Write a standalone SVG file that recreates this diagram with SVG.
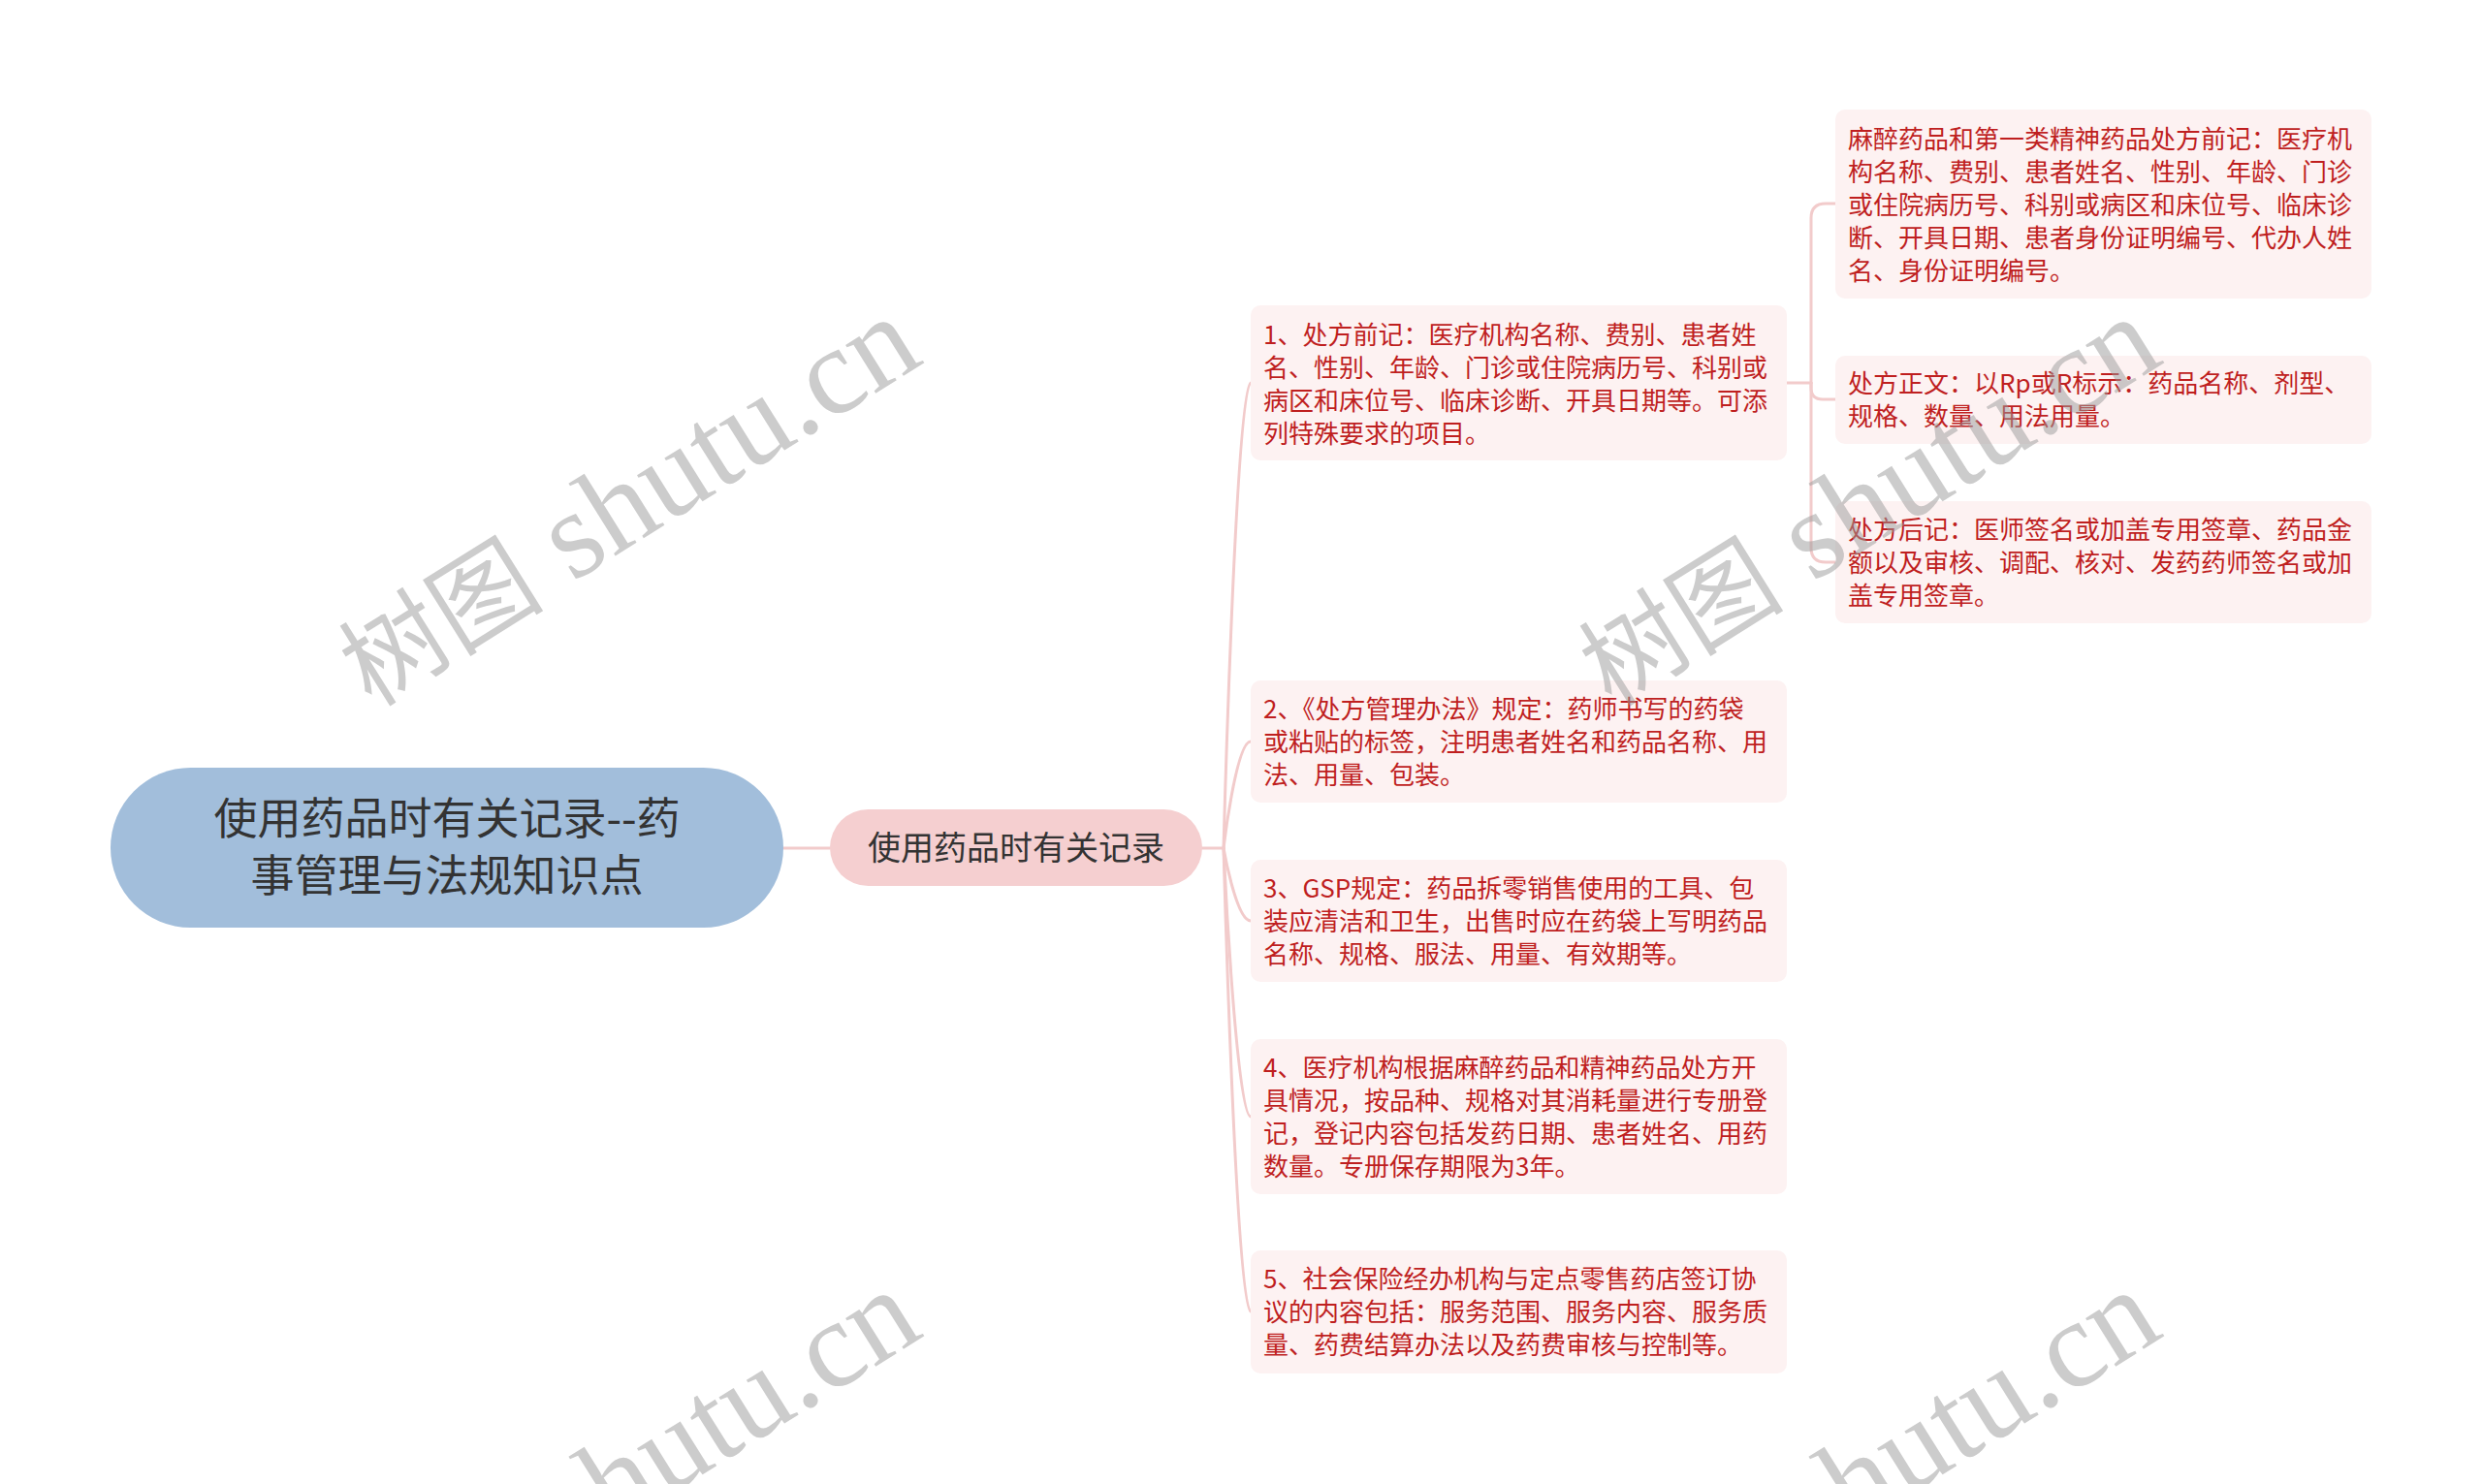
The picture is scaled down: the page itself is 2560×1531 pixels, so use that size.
<svg xmlns="http://www.w3.org/2000/svg" width="2560" height="1531" viewBox="0 0 2560 1531">
<style>
.bg{fill:#ffffff}
.conn{fill:none;stroke:#f2cbcb;stroke-width:3;stroke-linecap:round}
.root{fill:#a2bedb}
.sub{fill:#f5cfd0}
.leaf{fill:#fdf2f2}
.rt{font-family:"Noto Sans CJK SC","Noto Sans",sans-serif;font-size:45px;fill:#333333;text-anchor:middle}
.st{font-family:"Noto Sans CJK SC","Noto Sans",sans-serif;font-size:34px;fill:#333333;text-anchor:middle}
.lt{font-family:"Noto Sans CJK SC","Noto Sans",sans-serif;font-size:26px;fill:#bf1f1f}
.wm{font-family:"Liberation Serif","Noto Sans CJK SC",serif;font-size:128px;fill:#999999;fill-opacity:0.5;text-anchor:middle}
.wmc{font-size:106px}
</style>
<rect class="bg" x="0" y="0" width="2560" height="1531"/>

<g id="connectors">
  <path class="conn" d="M808 875 L856 875"/>
  <path class="conn" d="M1240 875 L1262 875"/>
  <path class="conn" d="M1262 875 C1262 875 1275 395 1290 395"/>
  <path class="conn" d="M1262 875 C1262 875 1275 765 1290 765"/>
  <path class="conn" d="M1262 875 C1262 875 1275 950 1290 950"/>
  <path class="conn" d="M1262 875 C1262 875 1275 1152 1290 1152"/>
  <path class="conn" d="M1262 875 C1262 875 1275 1353 1290 1353"/>
  <path class="conn" d="M1843 395 L1868 395"/>
  <path class="conn" d="M1868 395 L1868 225 Q1868 210 1883 210 L1893 210"/>
  <path class="conn" d="M1868 395 L1868 400 Q1868 412 1880 412 L1893 412"/>
  <path class="conn" d="M1868 395 L1868 565 Q1868 580 1883 580 L1893 580"/>
</g>

<g id="root">
  <rect class="root" x="114" y="792" width="694" height="165" rx="82.5" ry="82.5"/>
  <text class="rt" x="461" y="861">使用药品时有关记录--药</text>
  <text class="rt" x="461" y="920">事管理与法规知识点</text>
</g>

<g id="sub">
  <rect class="sub" x="856" y="835" width="384" height="79" rx="39.5" ry="39.5"/>
  <text class="st" x="1048" y="887">使用药品时有关记录</text>
</g>

<g id="item1">
  <rect class="leaf" x="1290" y="315" width="553" height="160" rx="10" ry="10"/>
  <text class="lt" x="1303" y="355">1、处方前记：医疗机构名称、费别、患者姓</text>
  <text class="lt" x="1303" y="389">名、性别、年龄、门诊或住院病历号、科别或</text>
  <text class="lt" x="1303" y="423">病区和床位号、临床诊断、开具日期等。可添</text>
  <text class="lt" x="1303" y="457">列特殊要求的项目。</text>
</g>

<g id="item1a">
  <rect class="leaf" x="1893" y="113" width="553" height="195" rx="10" ry="10"/>
  <text class="lt" x="1906" y="153">麻醉药品和第一类精神药品处方前记：医疗机</text>
  <text class="lt" x="1906" y="187">构名称、费别、患者姓名、性别、年龄、门诊</text>
  <text class="lt" x="1906" y="221">或住院病历号、科别或病区和床位号、临床诊</text>
  <text class="lt" x="1906" y="255">断、开具日期、患者身份证明编号、代办人姓</text>
  <text class="lt" x="1906" y="289">名、身份证明编号。</text>
</g>

<g id="item1b">
  <rect class="leaf" x="1893" y="367" width="553" height="91" rx="10" ry="10"/>
  <text class="lt" x="1906" y="405">处方正文：以Rp或R标示：药品名称、剂型、</text>
  <text class="lt" x="1906" y="439">规格、数量、用法用量。</text>
</g>

<g id="item1c">
  <rect class="leaf" x="1893" y="517" width="553" height="126" rx="10" ry="10"/>
  <text class="lt" x="1906" y="556">处方后记：医师签名或加盖专用签章、药品金</text>
  <text class="lt" x="1906" y="590">额以及审核、调配、核对、发药药师签名或加</text>
  <text class="lt" x="1906" y="624">盖专用签章。</text>
</g>

<g id="item2">
  <rect class="leaf" x="1290" y="702" width="553" height="126" rx="10" ry="10"/>
  <text class="lt" x="1303" y="741">2、《处方管理办法》规定：药师书写的药袋</text>
  <text class="lt" x="1303" y="775">或粘贴的标签，注明患者姓名和药品名称、用</text>
  <text class="lt" x="1303" y="809">法、用量、包装。</text>
</g>

<g id="item3">
  <rect class="leaf" x="1290" y="887" width="553" height="126" rx="10" ry="10"/>
  <text class="lt" x="1303" y="926">3、GSP规定：药品拆零销售使用的工具、包</text>
  <text class="lt" x="1303" y="960">装应清洁和卫生，出售时应在药袋上写明药品</text>
  <text class="lt" x="1303" y="994">名称、规格、服法、用量、有效期等。</text>
</g>

<g id="item4">
  <rect class="leaf" x="1290" y="1072" width="553" height="160" rx="10" ry="10"/>
  <text class="lt" x="1303" y="1111">4、医疗机构根据麻醉药品和精神药品处方开</text>
  <text class="lt" x="1303" y="1145">具情况，按品种、规格对其消耗量进行专册登</text>
  <text class="lt" x="1303" y="1179">记，登记内容包括发药日期、患者姓名、用药</text>
  <text class="lt" x="1303" y="1213">数量。专册保存期限为3年。</text>
</g>

<g id="item5">
  <rect class="leaf" x="1290" y="1290" width="553" height="127" rx="10" ry="10"/>
  <text class="lt" x="1303" y="1329">5、社会保险经办机构与定点零售药店签订协</text>
  <text class="lt" x="1303" y="1363">议的内容包括：服务范围、服务内容、服务质</text>
  <text class="lt" x="1303" y="1397">量、药费结算办法以及药费审核与控制等。</text>
</g>

<g id="watermarks">
  <g transform="translate(648 518) rotate(-32)"><text class="wm" x="0" y="40"><tspan class="wmc">树图</tspan> shutu.cn</text></g>
  <g transform="translate(1927 518) rotate(-32)"><text class="wm" x="0" y="40"><tspan class="wmc">树图</tspan> shutu.cn</text></g>
  <g transform="translate(648 1522) rotate(-32)"><text class="wm" x="0" y="40"><tspan class="wmc">树图</tspan> shutu.cn</text></g>
  <g transform="translate(1927 1522) rotate(-32)"><text class="wm" x="0" y="40"><tspan class="wmc">树图</tspan> shutu.cn</text></g>
</g>
</svg>
